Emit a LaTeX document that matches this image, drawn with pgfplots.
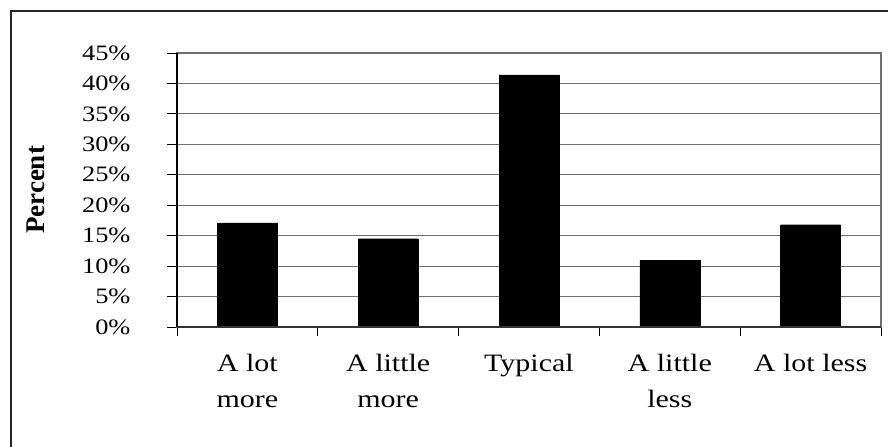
\documentclass[border=0pt]{standalone}
\usepackage{fontspec}
\setmainfont{Liberation Serif}[FakeStretch=1.2]
\newfontfamily\labfont{Liberation Serif}
\usepackage{pgfplots}
\pgfplotsset{compat=1.18}

\definecolor{gridgray}{HTML}{6E6E6E}

\begin{document}
\begin{tikzpicture}
\path[use as bounding box] (0,0) rectangle (888bp,447bp);
\draw[line width=1.3bp, black!85] (11bp,-10bp) rectangle (900bp,436bp);
\begin{axis}[
  at={(177bp,120bp)}, anchor=south west,
  scale only axis,
  width=704bp, height=274bp,
  xmin=-0.5, xmax=4.5,
  ymin=0, ymax=45,
  ybar, bar width=0.426,
  xtick={0,1,2,3,4},
  xticklabels={{A lot\\more},{A little\\more},{Typical},{A little\\less},{A lot less}},
  minor xtick={-0.5,0.5,1.5,2.5,3.5,4.5},
  major x tick style={draw=none},
  minor tick length=9bp,
  major tick length=10bp,
  tick align=outside,
  xtick pos=bottom, ytick pos=left,
  ytick={0,5,...,45},
  yticklabels={0\%,5\%,10\%,15\%,20\%,25\%,30\%,35\%,40\%,45\%},
  ymajorgrids,
  grid style={gridgray, line width=1.2bp},
  axis line style={gridgray, line width=1.2bp},
  tick style={black, line width=0.9bp},
  yticklabel style={font=\fontsize{22bp}{24bp}\selectfont, xshift=-33bp},
  xticklabel style={font=\fontsize{25bp}{36bp}\selectfont, align=center, yshift=-14bp},
  clip=false,
]
\addplot[fill=black, draw=black] coordinates {(0,17.1) (1,14.5) (2,41.4) (3,11.0) (4,16.8)};
\draw[black, line width=1.2bp] (axis cs:-0.5,0) -- (axis cs:-0.5,45);
\draw[black!80, line width=1.3bp] (axis cs:-0.5,0) -- (axis cs:4.5,0);
\node[rotate=90, font=\fontsize{27bp}{30bp}\labfont\bfseries] at ([xshift=-141bp]rel axis cs:0,0.5) {Percent};
\end{axis}
\end{tikzpicture}
\end{document}
